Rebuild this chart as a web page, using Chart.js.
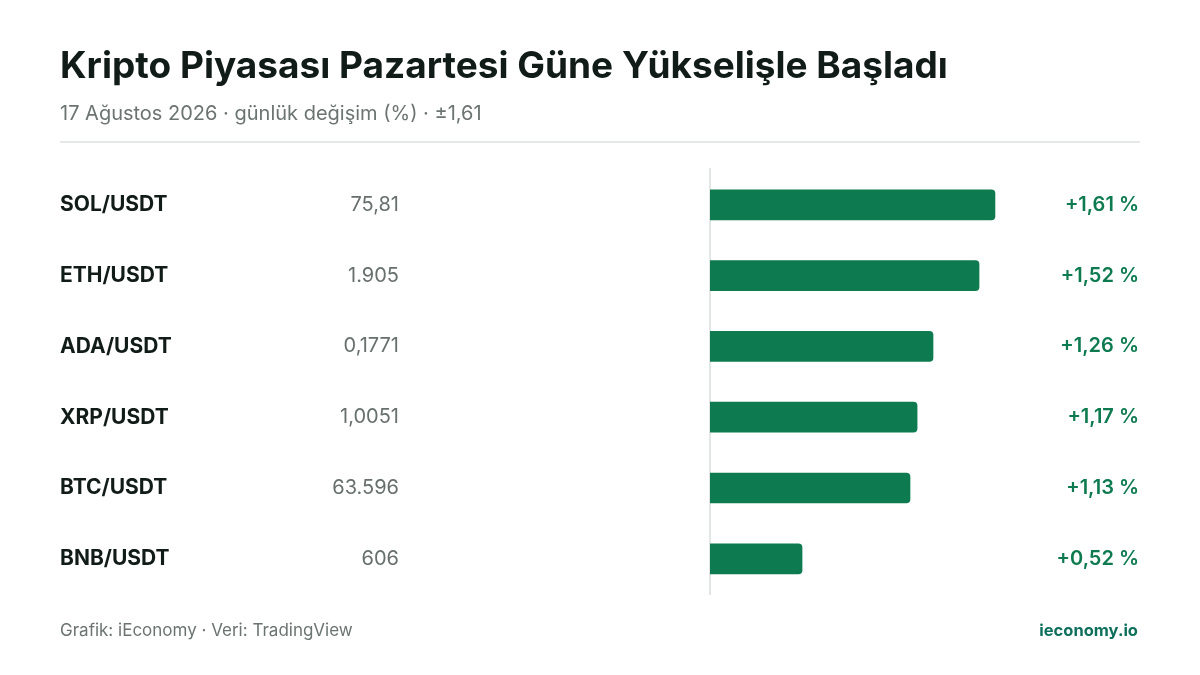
<!DOCTYPE html>
<html lang="tr">
<head>
<meta charset="utf-8">
<title>Kripto Piyasası</title>
<script src="https://cdn.jsdelivr.net/npm/chart.js@4.4.1/dist/chart.umd.min.js"></script>
<style>
    html, body { margin: 0; padding: 0; background: #fff; }
    #wrap { position: relative; width: 1200px; height: 675px; overflow: hidden; font-family: Inter, "Noto Sans", sans-serif; }
    #wrap canvas { position: absolute; left: 0; top: 0; }
    .title { position: absolute; left: 60px; top: 42px; margin: 0; font-size: 37px; font-weight: 700; color: #111b18; white-space: nowrap; }
    .sub { position: absolute; left: 60px; top: 101px; font-size: 20px; color: #6b7471; white-space: nowrap; }
    .rule { position: absolute; left: 60px; top: 141px; width: 1080px; height: 2px; background: #e4e8e6; }
    .foot { position: absolute; top: 620px; white-space: nowrap; }
    .foot.left { left: 60px; color: #6b7471; font-size: 17px; }
    .foot.right { right: 62px; color: #0d6f5c; font-weight: 700; font-size: 16.5px; }
</style>
</head>
<body>
<div id="wrap">
    <canvas id="bars" width="1200" height="675"></canvas>
    <h1 class="title">Kripto Piyasası Pazartesi Güne Yükselişle Başladı</h1>
    <div class="sub">17 Ağustos 2026 · günlük değişim (%) · ±1,61</div>
    <div class="rule"></div>
    <div class="foot left">Grafik: iEconomy · Veri: TradingView</div>
    <div class="foot right">ieconomy.io</div>
</div>
<script>
"use strict";

// data
var pairs = ['SOL/USDT', 'ETH/USDT', 'ADA/USDT', 'XRP/USDT', 'BTC/USDT', 'BNB/USDT'];
var prices = ['75,81', '1.905', '0,1771', '1,0051', '63.596', '606'];
var changes = [1.61, 1.52, 1.26, 1.17, 1.13, 0.52];

var green = '#0d7b4f';
var fontFam = 'Inter, "Noto Sans", sans-serif';

function fmtChange(v) {
    return (v >= 0 ? '+' : '') + v.toFixed(2).replace('.', ',') + ' %';
}

// prices column + value labels at the right
var sideText = {
    id: 'sideText',
    afterDatasetsDraw: function(chart) {
        var ctx = chart.ctx;
        var yScale = chart.scales.y;
        ctx.save();
        ctx.textBaseline = 'middle';
        ctx.textAlign = 'right';
        for (var i = 0; i < pairs.length; i++) {
            var y = yScale.getPixelForValue(i);
            ctx.font = '400 20px ' + fontFam;
            ctx.fillStyle = '#67706d';
            ctx.fillText(prices[i], 399, y);
            ctx.font = '600 20px ' + fontFam;
            ctx.fillStyle = green;
            ctx.fillText(fmtChange(changes[i]), 1139, y);
        }
        ctx.restore();
    }
};

var chart = new Chart(document.getElementById('bars'), {
    type: 'bar',
    data: {
        labels: pairs,
        datasets: [{
            data: changes,
            backgroundColor: green,
            borderRadius: 4,
            borderSkipped: 'start',
            barThickness: 30
        }]
    },
    options: {
        indexAxis: 'y',
        responsive: false,
        animation: false,
        layout: {
            padding: { left: 60, right: 136, top: 169.4, bottom: 80.8 }
        },
        plugins: {
            legend: { display: false },
            tooltip: { enabled: false }
        },
        scales: {
            x: {
                min: 0,
                max: 2,
                display: false
            },
            y: {
                grid: { display: false, drawTicks: false },
                border: { display: true, color: '#e2e6e4', width: 2 },
                afterFit: function(scale) {
                    scale.width = 650;
                },
                ticks: {
                    crossAlign: 'far',
                    padding: 0,
                    color: '#111b18',
                    font: { family: fontFam, size: 21, weight: '700' }
                }
            }
        }
    },
    plugins: [sideText]
});
</script>
</body>
</html>
